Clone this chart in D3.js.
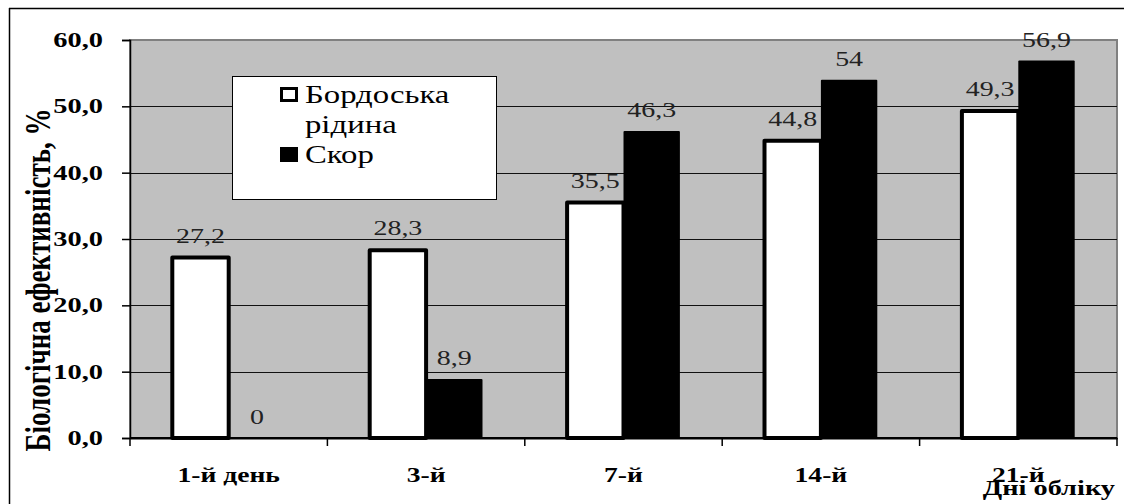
<!DOCTYPE html>
<html><head><meta charset="utf-8">
<script src="https://cdn.jsdelivr.net/npm/d3@7"></script>
<style>body{margin:0;background:#fff}svg{display:block}</style>
</head><body>
<svg id="c" width="1124" height="504"></svg>
<script>
const categories = ["1-й день", "3-й", "7-й", "14-й", "21-й"];
const bordeaux = [27.2, 28.3, 35.5, 44.8, 49.3];
const skor = [0, 8.9, 46.3, 54, 56.9];
const bordeauxLabels = ["27,2", "28,3", "35,5", "44,8", "49,3"];
const skorLabels = ["0", "8,9", "46,3", "54", "56,9"];
const yTicks = [0, 10, 20, 30, 40, 50, 60];
const seriesNames = ["Бордоська", "рідина", "Скор"];
const yTitle = "Біологічна ефективність, %";
const xTitle = "Дні обліку";

const svg = d3.select("#c");
const L = 130, R = 1117, T = 40, B = 438;

svg.append("line").attr("x1", 9).attr("x2", 1124).attr("y1", 8.5).attr("y2", 8.5).attr("stroke", "#000").attr("stroke-width", 1.5);
svg.append("line").attr("x1", 9.5).attr("x2", 9.5).attr("y1", 8).attr("y2", 504).attr("stroke", "#000").attr("stroke-width", 1.5);

const y = d3.scaleLinear().domain([0, 60]).range([B, T]);
const x = d3.scaleBand().domain(categories).range([L, R]).padding(0);
const bw = x.bandwidth() / 3.5;

svg.append("rect").attr("x", L).attr("y", T).attr("width", R - L).attr("height", B - T)
  .attr("fill", "#c0c0c0").attr("stroke", "#808080").attr("stroke-width", 2);

svg.append("g").selectAll("line").data(yTicks.filter(d => d > 0 && d < 60)).join("line")
  .attr("x1", L).attr("x2", R).attr("y1", d => Math.round(y(d)) + 0.5).attr("y2", d => Math.round(y(d)) + 0.5)
  .attr("stroke", "#111").attr("stroke-width", 1);

const ya = svg.append("g").attr("transform", `translate(${L},0)`)
  .call(d3.axisLeft(y).tickValues(yTicks).tickSize(8).tickFormat(""));
ya.selectAll("line,path").attr("stroke", "#000").attr("stroke-width", 1.5);
const xa = svg.append("g").attr("transform", `translate(0,${B})`)
  .call(d3.axisBottom(x).tickSize(0).tickFormat(""));
xa.select("path").attr("stroke", "#000").attr("stroke-width", 2);
svg.append("g").selectAll("line").data(categories.concat(["_end"])).join("line")
  .attr("x1", (d, i) => L + i * x.step()).attr("x2", (d, i) => L + i * x.step())
  .attr("y1", B).attr("y2", B + 8).attr("stroke", "#000").attr("stroke-width", 1.5);

function stext(g, str, tx, ty, size, sx, opts) {
  opts = opts || {};
  return g.append("text")
    .attr("transform", `translate(${tx},${ty}) ${opts.rot ? "rotate(" + opts.rot + ")" : ""} scale(${opts.sy ? 1 : sx},${opts.sy ? opts.sy : 1})`)
    .attr("text-anchor", opts.anchor || "middle")
    .style("font-family", '"Liberation Serif"')
    .attr("font-size", size)
    .attr("font-weight", opts.bold ? "bold" : "normal")
    .attr("fill", opts.fill || "#000").text(str);
}

yTicks.forEach(t => stext(svg, d3.format(".1f")(t).replace(".", ","), 103, y(t) + 7, 20, 1.42, {anchor: "end", bold: true}));

const bars = svg.append("g");
bars.selectAll("rect.bd").data(bordeaux).join("rect").attr("class", "bd")
  .attr("x", (d, i) => x(categories[i]) + x.bandwidth() / 2 - bw)
  .attr("y", d => y(d)).attr("width", bw).attr("height", d => B - y(d))
  .attr("fill", "#fff").attr("stroke", "#000").attr("stroke-width", 4).attr("stroke-linejoin", "round");
bars.selectAll("rect.sk").data(skor).join("rect").attr("class", "sk")
  .attr("x", (d, i) => x(categories[i]) + x.bandwidth() / 2)
  .attr("y", d => y(d)).attr("width", bw).attr("height", d => B - y(d))
  .attr("fill", "#000").attr("rx", 1);
svg.append("line").attr("x1", L).attr("x2", R).attr("y1", B).attr("y2", B).attr("stroke", "#000").attr("stroke-width", 2);

bordeaux.forEach((v, i) => stext(svg, bordeauxLabels[i], x(categories[i]) + x.bandwidth() / 2 - bw / 2, y(v) - 15, 22, 1.27, {fill: "#222"}));
skor.forEach((v, i) => stext(svg, skorLabels[i], x(categories[i]) + x.bandwidth() / 2 + bw / 2, y(v) - 14, 22, 1.27, {fill: "#222"}));

categories.forEach(c => stext(svg, c, x(c) + x.bandwidth() / 2, 482, 20, 1.38, {bold: true}));
stext(svg, xTitle, 1115, 495, 21, 1.35, {anchor: "end", bold: true});

stext(svg, yTitle, 50, 280, 27, 1, {rot: -90, sy: 1.3, bold: true});

const lg = svg.append("g");
lg.append("rect").attr("x", 232.5).attr("y", 76.5).attr("width", 264).attr("height", 123)
  .attr("fill", "#fff").attr("stroke", "#000").attr("stroke-width", 1);
lg.append("rect").attr("x", 281.5).attr("y", 88.5).attr("width", 15).attr("height", 12)
  .attr("fill", "#fff").attr("stroke", "#000").attr("stroke-width", 3);
lg.append("rect").attr("x", 280).attr("y", 147).attr("width", 18).attr("height", 15).attr("fill", "#000");
stext(lg, seriesNames[0], 305, 103, 26, 1.26, {anchor: "start"});
stext(lg, seriesNames[1], 305, 133, 26, 1.26, {anchor: "start"});
stext(lg, seriesNames[2], 305, 163, 26, 1.26, {anchor: "start"});
</script>
</body></html>
